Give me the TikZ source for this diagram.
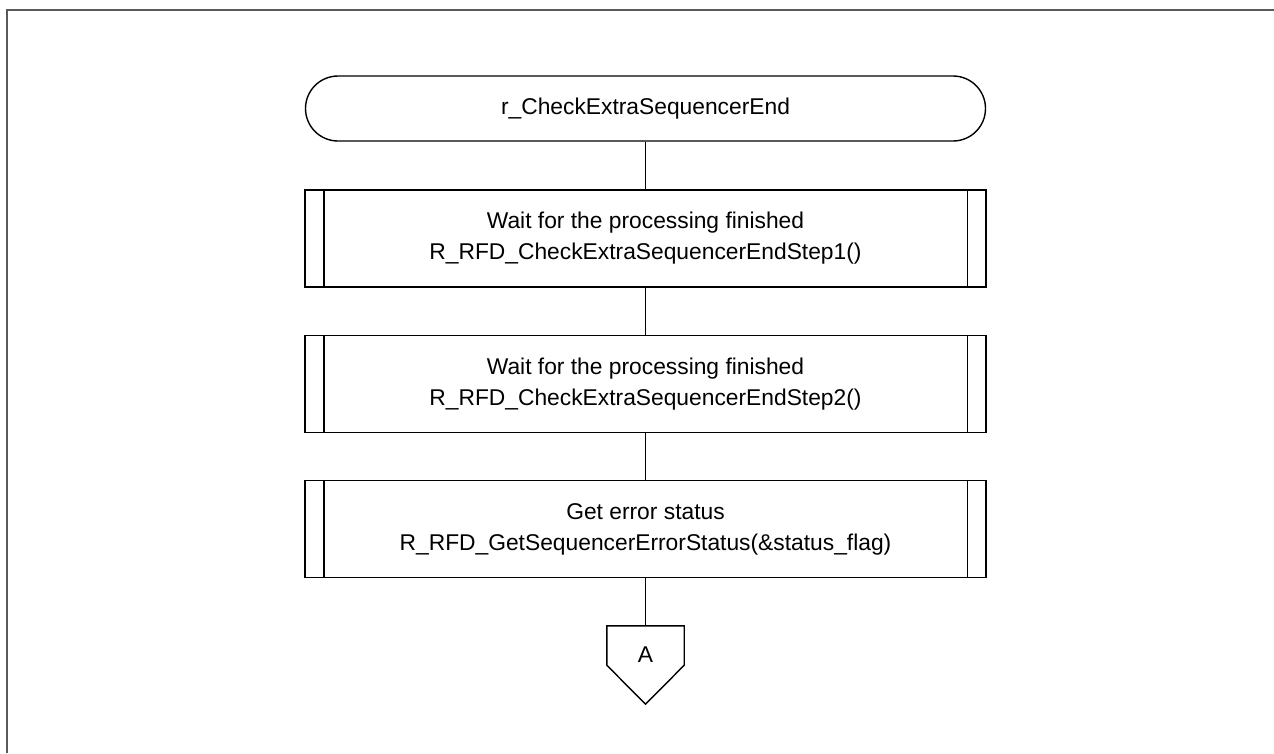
\documentclass[tikz,border=0pt]{standalone}
\usepackage{fontspec}
\setmainfont{Liberation Sans}
\begin{document}
\begin{tikzpicture}[x=1pt, y=-1pt,
  every node/.style={font=\fontsize{22.8}{31}\selectfont, align=center, inner sep=0pt},
  shape line/.style={draw=black, line width=1.4pt},
  frame/.style={draw=black!65, line width=2pt},
  terminal/.style={shape line, rectangle, rounded corners=32.5pt, minimum width=680pt, minimum height=65pt},
  predef/.style={shape line, rectangle, minimum width=681pt, minimum height=97pt},
  flow/.style={draw=black, line width=1.4pt},
  conn/.style={minimum width=77pt, minimum height=39pt}
]
\useasboundingbox (0,0) rectangle (1274,753);

% outer frame (top and left edges)
\draw[frame] (7,753) -- (7,10) -- (1274,10);

% start terminal
\node[terminal] (start) at (645.5,108.5) {r\_CheckExtraSequencerEnd};

% predefined-process boxes
\node[predef] (p1) at (645.5,238.5) {Wait for the processing finished\\R\_RFD\_CheckExtraSequencerEndStep1()};
\node[predef] (p2) at (645.5,384) {Wait for the processing finished\\R\_RFD\_CheckExtraSequencerEndStep2()};
\node[predef] (p3) at (645.5,529) {Get error status\\R\_RFD\_GetSequencerErrorStatus(\&status\_flag)};

% side bars of the predefined-process boxes
\foreach \b in {p1,p2,p3} {
  \draw[shape line] ([xshift=19.5pt]\b.north west) -- ([xshift=19.5pt]\b.south west);
  \draw[shape line] ([xshift=-19.5pt]\b.north east) -- ([xshift=-19.5pt]\b.south east);
}

% off-page connector
\node[conn] (conA) at (645.5,645.5) {};
\node (conAtext) at ([yshift=-9.5pt]conA.center) {A};
\draw[shape line, line join=miter] (conA.north west) -- (conA.north east) -- (conA.south east)
  -- ([yshift=-39pt]conA.south) -- (conA.south west) -- cycle;

% flow lines
\draw[flow] (start.south) -- (p1.north);
\draw[flow] (p1.south) -- (p2.north);
\draw[flow] (p2.south) -- (p3.north);
\draw[flow] (p3.south) -- (conA.north);
\end{tikzpicture}
\end{document}
